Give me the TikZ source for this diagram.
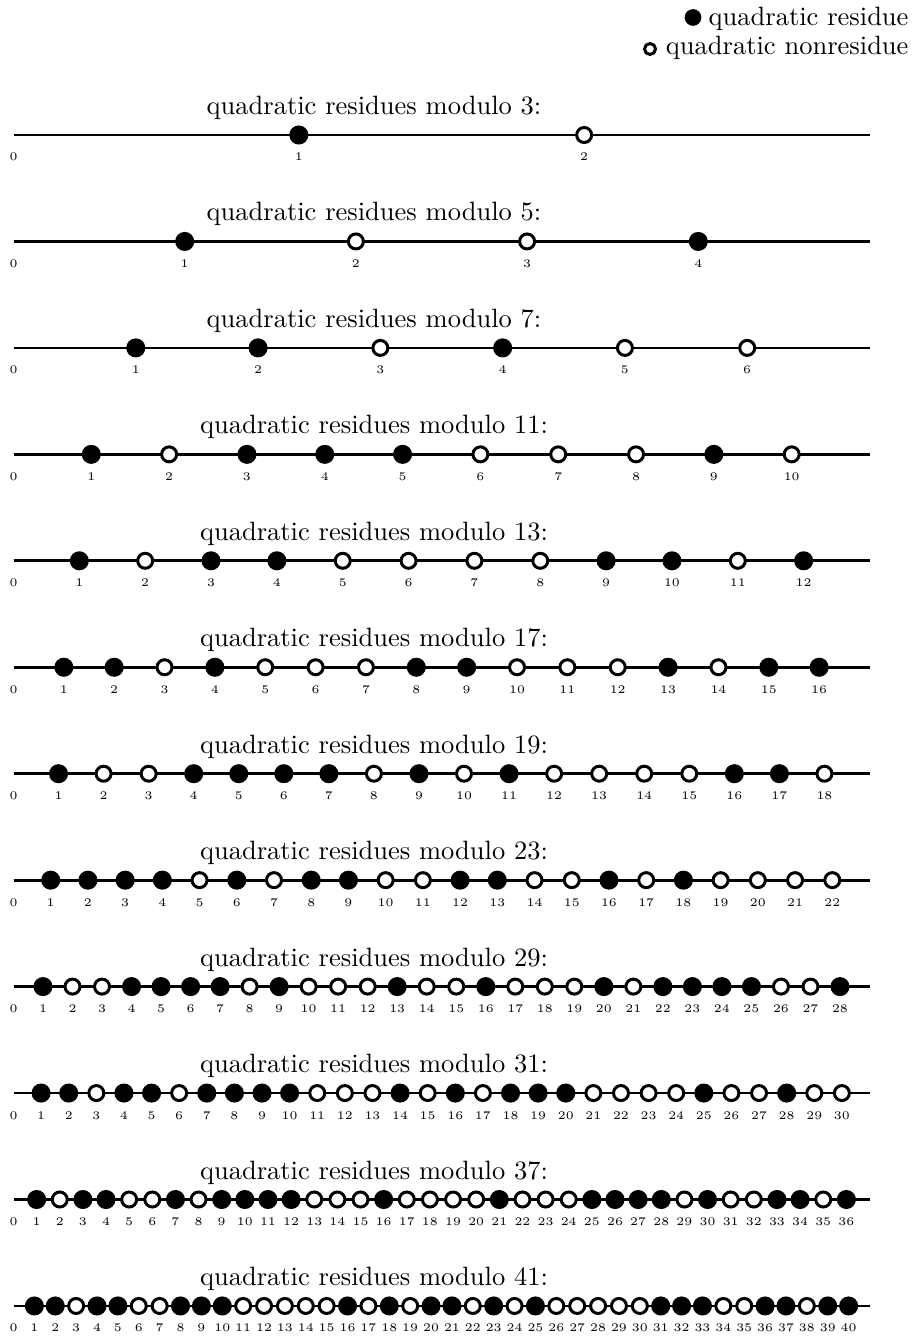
\documentclass[tikz,border=0pt]{standalone}
\newcommand\qrrow[4]{%
  \pgfmathsetmacro\yy{135+106.45*#1}%
  \coordinate (a#2) at (13.5,\yy);
  \coordinate (b#2) at (869.5,\yy);
  \draw[axisline] (a#2) -- (b#2);
  \node[titletext] (t#2) at (374,\yy-20.5) {quadratic residues modulo #2:};
  \node[lab] (n#2-0) at (13.5,\yy+26) {0};
  \foreach \kk in {#3}{%
    \pgfmathsetmacro\xx{13.5+\kk/#2*856}%
    \node[res] (d#2-\kk) at (\xx,\yy) {};
    \node[lab] (n#2-\kk) at (\xx,\yy+26) {\kk};}
  \foreach \kk in {#4}{%
    \pgfmathsetmacro\xx{13.5+\kk/#2*856}%
    \node[non] (d#2-\kk) at (\xx,\yy) {};
    \node[lab] (n#2-\kk) at (\xx,\yy+26) {\kk};}
}
\begin{document}
\begin{tikzpicture}[x=0.3774pt,y=-0.3774pt,
  axisline/.style={line width=1.02pt},
  res/.style={circle,fill=black,inner sep=0pt,minimum size=7.2pt},
  non/.style={circle,draw=black,fill=white,line width=1.13pt,inner sep=0pt,minimum size=5.66pt},
  titletext/.style={anchor=base,font=\fontsize{10}{12}\selectfont,inner sep=0pt},
  lab/.style={anchor=base,font=\fontsize{4.4}{5}\selectfont,inner sep=0pt},
  legtext/.style={anchor=base east,font=\fontsize{10}{12}\selectfont,inner sep=0pt},
  legres/.style={circle,fill=black,inner sep=0pt,minimum size=6.3pt},
  legnon/.style={circle,draw=black,fill=white,line width=1.13pt,inner sep=0pt,minimum size=4.15pt}]
\useasboundingbox (0,0) rectangle (921,1337);
% legend
\node[legres] (lr) at (693,17.5) {};
\node[legtext] (lrt) at (909,26) {quadratic residue};
\node[legnon] (ln) at (650,49) {};
\node[legtext] (lnt) at (909,55) {quadratic nonresidue};
% rows
\qrrow{0}{3}{1}{2}
\qrrow{1}{5}{1,4}{2,3}
\qrrow{2}{7}{1,2,4}{3,5,6}
\qrrow{3}{11}{1,3,4,5,9}{2,6,7,8,10}
\qrrow{4}{13}{1,3,4,9,10,12}{2,5,6,7,8,11}
\qrrow{5}{17}{1,2,4,8,9,13,15,16}{3,5,6,7,10,11,12,14}
\qrrow{6}{19}{1,4,5,6,7,9,11,16,17}{2,3,8,10,12,13,14,15,18}
\qrrow{7}{23}{1,2,3,4,6,8,9,12,13,16,18}{5,7,10,11,14,15,17,19,20,21,22}
\qrrow{8}{29}{1,4,5,6,7,9,13,16,20,22,23,24,25,28}{2,3,8,10,11,12,14,15,17,18,19,21,26,27}
\qrrow{9}{31}{1,2,4,5,7,8,9,10,14,16,18,19,20,25,28}{3,6,11,12,13,15,17,21,22,23,24,26,27,29,30}
\qrrow{10}{37}{1,3,4,7,9,10,11,12,16,21,25,26,27,28,30,33,34,36}{2,5,6,8,13,14,15,17,18,19,20,22,23,24,29,31,32,35}
\qrrow{11}{41}{1,2,4,5,8,9,10,16,18,20,21,23,25,31,32,33,36,37,39,40}{3,6,7,11,12,13,14,15,17,19,22,24,26,27,28,29,30,34,35,38}
\end{tikzpicture}
\end{document}
